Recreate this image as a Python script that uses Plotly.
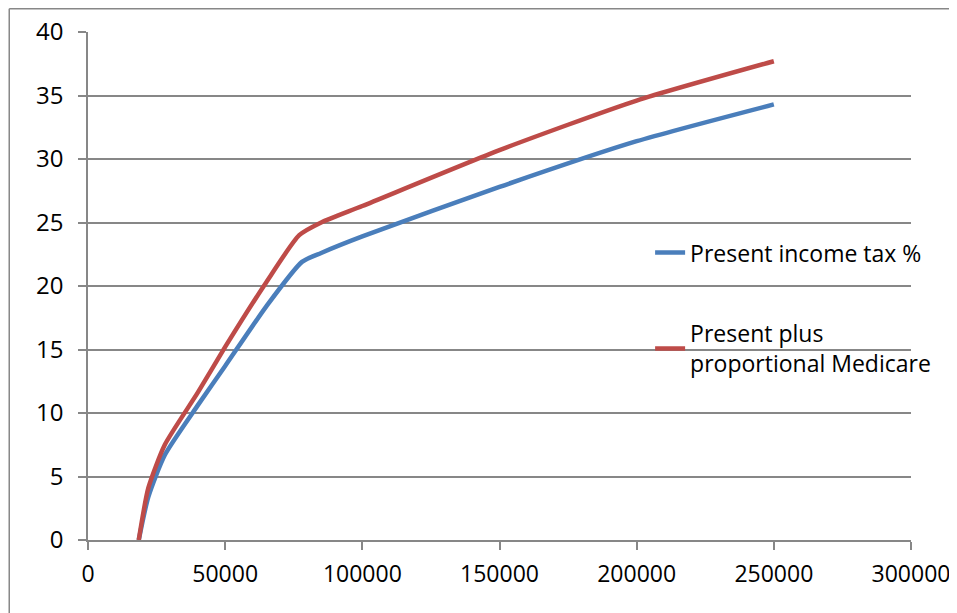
import plotly.graph_objects as go

# Data
income_blue = [18500, 22000, 28000, 40000, 50000, 65000, 78000, 85000, 100000, 150000, 200000, 250000]
tax_blue = [0, 3.4, 6.7, 10.6, 13.7, 18.4, 21.9, 22.6, 23.9, 27.8, 31.4, 34.3]

income_red = [18500, 22000, 28000, 40000, 50000, 65000, 77000, 85000, 100000, 150000, 200000, 250000]
tax_red = [0, 4.1, 7.5, 11.6, 15.2, 20.3, 24.0, 25.0, 26.3, 30.7, 34.6, 37.7]

name_blue = "Present income tax %"
name_red = "Present plus<br>proportional Medicare"

x_ticks = [0, 50000, 100000, 150000, 200000, 250000, 300000]
y_ticks = [0, 5, 10, 15, 20, 25, 30, 35, 40]

FONT = "Open Sans"
GRID = "#878787"

fig = go.Figure()
fig.add_trace(go.Scatter(x=income_blue, y=tax_blue, mode="lines", name=name_blue,
                         legendgroup="a",
                         line=dict(color="#4A7EBB", width=4.5, shape="spline", smoothing=0.6)))
fig.add_trace(go.Scatter(x=income_red, y=tax_red, mode="lines", name=name_red,
                         legendgroup="b",
                         line=dict(color="#BE4B48", width=4.5, shape="spline", smoothing=0.6)))

fig.update_layout(
    width=949, height=605,
    margin=dict(l=79.5, r=46.3, t=24, b=73, autoexpand=False),
    paper_bgcolor="white", plot_bgcolor="white",
    font=dict(family=FONT, size=23, color="black"),
    showlegend=True,
    legend=dict(x=0.683, y=0.608, xanchor="left", yanchor="top",
                bgcolor="rgba(0,0,0,0)", tracegroupgap=48,
                font=dict(family=FONT, size=23, color="black")),
    shapes=[
        dict(type="line", xref="paper", yref="paper", x0=-0.0957, x1=1.1, y0=1.046, y1=1.046,
             line=dict(color=GRID, width=1.5)),
        dict(type="line", xref="paper", yref="paper", x0=-0.0957, x1=-0.0957, y0=1.046, y1=-0.2,
             line=dict(color=GRID, width=1.5)),
    ],
)
fig.update_xaxes(range=[0, 300000], tickvals=x_ticks, ticktext=[str(v) for v in x_ticks],
                 showgrid=False, zeroline=False, showline=True, linecolor=GRID, linewidth=1.5,
                 ticks="outside", ticklen=8, tickcolor=GRID, tickwidth=1.5,
                 tickfont=dict(size=23), ticklabelstandoff=5)
fig.update_yaxes(range=[0, 40], tickvals=y_ticks, ticktext=[str(v) for v in y_ticks],
                 showgrid=True, gridcolor=GRID, gridwidth=1.5, zeroline=False,
                 showline=True, linecolor=GRID, linewidth=1.5,
                 ticks="outside", ticklen=8, tickcolor=GRID, tickwidth=1.5,
                 tickfont=dict(size=24), ticklabelstandoff=10)

fig.write_html("out.html")
